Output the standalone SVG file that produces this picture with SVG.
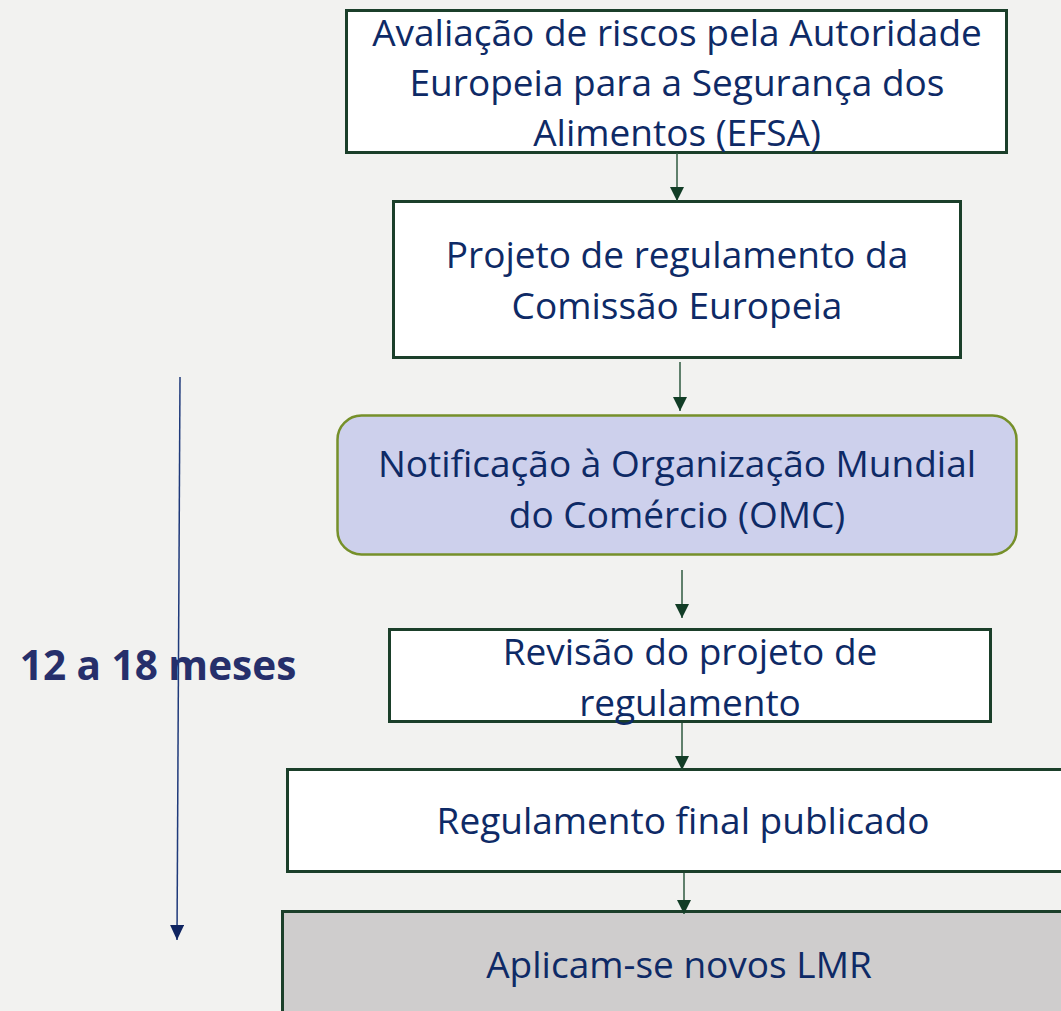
<svg xmlns="http://www.w3.org/2000/svg" width="1061" height="1011" viewBox="0 0 1061 1011">
<defs>
<style>
.box{fill:#ffffff;stroke:#1b3f2a;stroke-width:3}
.t{font-family:"Open Sans","Noto Sans",sans-serif;font-size:37px;fill:#0e2a66;text-anchor:middle}
.c{stroke:#2f5a40;stroke-width:1.5;fill:none}
</style>
<marker id="ah" markerWidth="14" markerHeight="14" refX="14" refY="7" orient="auto" markerUnits="userSpaceOnUse">
<path d="M0,0 L14,7 L0,14 Z" fill="#123d26"/>
</marker>
<marker id="ahb" markerWidth="15" markerHeight="14" refX="15" refY="7" orient="auto" markerUnits="userSpaceOnUse">
<path d="M0,0 L15,7 L0,14 Z" fill="#0f2460"/>
</marker>
</defs>
<rect width="1061" height="1011" fill="#f2f2f0"/>
<g id="n1">
<rect class="box" x="346.5" y="10.5" width="660" height="142"/>
<text class="t" x="677" y="46">Avaliação de riscos pela Autoridade</text>
<text class="t" x="677" y="96">Europeia para a Segurança dos</text>
<text class="t" x="677" y="146">Alimentos (EFSA)</text>
</g>
<g id="n2">
<rect class="box" x="393.5" y="201.5" width="567" height="156"/>
<text class="t" x="677" y="268">Projeto de regulamento da</text>
<text class="t" x="677" y="319">Comissão Europeia</text>
</g>
<g id="n3">
<rect x="337.5" y="415.5" width="679" height="139" rx="24" fill="#cdd0ec" stroke="#76902a" stroke-width="2.5"/>
<text class="t" x="677" y="477">Notificação à Organização Mundial</text>
<text class="t" x="677" y="528">do Comércio (OMC)</text>
</g>
<g id="n4">
<rect class="box" x="389.5" y="629.5" width="601" height="92"/>
<text class="t" x="690" y="665">Revisão do projeto de</text>
<text class="t" x="690" y="716">regulamento</text>
</g>
<g id="n5">
<rect class="box" x="287.5" y="769.5" width="780" height="102"/>
<text class="t" x="683" y="834">Regulamento final publicado</text>
</g>
<g id="n6">
<rect x="282.5" y="911.5" width="790" height="110" fill="#cfcdcd" stroke="#1b3f2a" stroke-width="3"/>
<text class="t" x="679" y="978">Aplicam-se novos LMR</text>
</g>
<g id="label">
<text x="158" y="680" font-family="'Open Sans','Noto Sans',sans-serif" font-weight="bold" font-size="40.5" fill="#262f6b" text-anchor="middle">12 a 18 meses</text>
</g>
<g id="connectors">
<line class="c" x1="677" y1="153" x2="677" y2="201" marker-end="url(#ah)"/>
<line class="c" x1="680" y1="362" x2="680" y2="411" marker-end="url(#ah)"/>
<line class="c" x1="682" y1="570" x2="682" y2="618" marker-end="url(#ah)"/>
<line class="c" x1="682" y1="723" x2="682" y2="770" marker-end="url(#ah)"/>
<line class="c" x1="684" y1="873" x2="684" y2="914" marker-end="url(#ah)"/>
<line x1="180" y1="377" x2="177" y2="940" stroke="#1f3a7a" stroke-width="1.5" marker-end="url(#ahb)"/>
</g>
</svg>
